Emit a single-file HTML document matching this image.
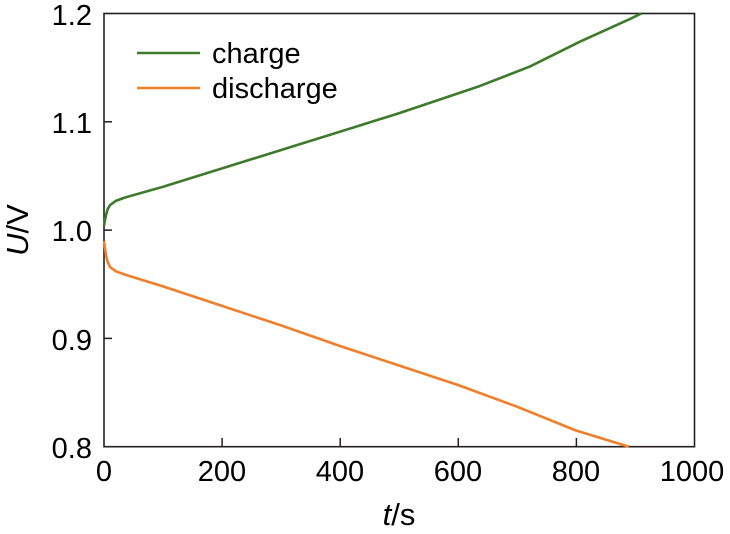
<!DOCTYPE html>
<html><head><style>body{margin:0;background:#fff}</style></head><body>
<svg width="730" height="529" xmlns="http://www.w3.org/2000/svg" font-family="Liberation Sans, Arial, sans-serif">
<rect x="104" y="13.5" width="590.5" height="433.2" fill="none" stroke="#231f20" stroke-width="1.6"/>
<g stroke="#231f20" stroke-width="1.5">
<line x1="222.1" y1="446.7" x2="222.1" y2="438"/>
<line x1="340.2" y1="446.7" x2="340.2" y2="438"/>
<line x1="458.3" y1="446.7" x2="458.3" y2="438"/>
<line x1="576.4" y1="446.7" x2="576.4" y2="438"/>
<line x1="104" y1="121.8" x2="112" y2="121.8"/>
<line x1="104" y1="230.1" x2="112" y2="230.1"/>
<line x1="104" y1="338.4" x2="112" y2="338.4"/>
</g>
<g font-size="29" fill="#000" text-anchor="middle">
<text x="104" y="481">0</text><text x="222" y="481">200</text><text x="340" y="481">400</text><text x="458" y="481">600</text><text x="576" y="481">800</text><text x="692" y="481">1000</text>
</g>
<g font-size="29" fill="#000" text-anchor="end">
<text x="92" y="25">1.2</text><text x="92" y="133">1.1</text><text x="92" y="241">1.0</text><text x="92" y="350">0.9</text><text x="92" y="458">0.8</text>
</g>
<text x="399" y="525" font-size="31" text-anchor="middle"><tspan font-style="italic">t</tspan>/s</text>
<text transform="translate(28,230) rotate(-90)" font-size="31" text-anchor="middle"><tspan font-style="italic">U</tspan>/V</text>
<polyline fill="none" stroke="#3d7a2c" stroke-width="2.6" stroke-linejoin="round" points="104,225.8 105.8,216 107.5,209.5 109.9,205.2 115.8,200.9 124.7,197.6 163.1,186.8 222.1,168.4 281.2,150 330.2,134.8 399.3,113.1 479.6,86.1 529.8,66.6 579.9,41.7 630.1,18.9 641.4,13.5"/>
<polyline fill="none" stroke="#f07f2c" stroke-width="2.6" stroke-linejoin="round" points="104,240.9 105.8,254 107.5,261.5 109.9,266.9 115.8,271.3 124.7,274.5 163,286.4 222,305.9 281,325.4 340,346 399,365.5 458,385 517,406.7 576,430.5 629,446.7"/>
<line x1="137" y1="53" x2="200" y2="53" stroke="#3d7a2c" stroke-width="2.6"/>
<line x1="137" y1="88" x2="200" y2="88" stroke="#f07f2c" stroke-width="2.6"/>
<text x="212" y="63" font-size="29">charge</text>
<text x="212" y="98" font-size="29">discharge</text>
</svg>
</body></html>
